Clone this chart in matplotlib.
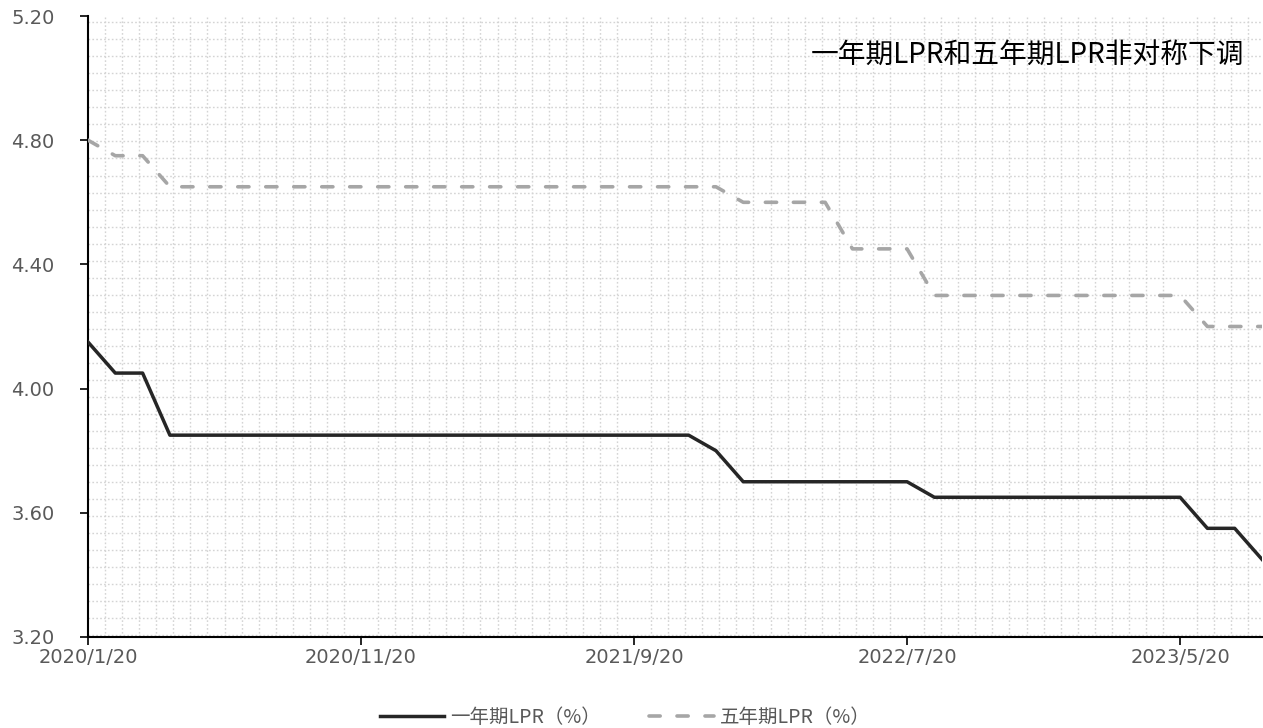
import numpy as np
import matplotlib
matplotlib.use("Agg")
import matplotlib.pyplot as plt

plt.rcParams['font.family'] = ['Noto Sans CJK SC', 'DejaVu Sans']

# monthly LPR quotes, 2020/1 .. 2023/8
months = ["2020/1/20", "2020/2/20", "2020/3/20", "2020/4/20", "2020/5/20", "2020/6/20",
          "2020/7/20", "2020/8/20", "2020/9/20", "2020/10/20", "2020/11/20", "2020/12/20",
          "2021/1/20", "2021/2/20", "2021/3/20", "2021/4/20", "2021/5/20", "2021/6/20",
          "2021/7/20", "2021/8/20", "2021/9/20", "2021/10/20", "2021/11/20", "2021/12/20",
          "2022/1/20", "2022/2/20", "2022/3/20", "2022/4/20", "2022/5/20", "2022/6/20",
          "2022/7/20", "2022/8/20", "2022/9/20", "2022/10/20", "2022/11/20", "2022/12/20",
          "2023/1/20", "2023/2/20", "2023/3/20", "2023/4/20", "2023/5/20", "2023/6/20",
          "2023/7/20", "2023/8/20"]
lpr_1y = [4.15, 4.05, 4.05] + [3.85] * 20 + [3.80] + [3.70] * 7 + [3.65] * 10 + [3.55, 3.55, 3.45]
lpr_5y = [4.80, 4.75, 4.75] + [4.65] * 21 + [4.60] * 4 + [4.45] * 3 + [4.30] * 10 + [4.20] * 3

x = np.arange(len(months))

fig = plt.figure(figsize=(12.63, 7.28), dpi=100)
ax = fig.add_axes([88 / 1263, 1 - 637 / 728, (1262 - 88) / 1263, (637 - 16) / 728])

ax.plot(x, lpr_1y, color='#262626', lw=2.5, label='一年期LPR（%）', zorder=3)
ax.plot(x, lpr_5y, color='#A6A6A6', lw=2.6, ls=(0, (3.1, 4.65)), dash_capstyle='round',
        label='五年期LPR（%）', zorder=3)

ax.set_xlim(0, len(months) - 1)
ax.set_ylim(3.2, 5.2)
ax.set_yticks(np.arange(3.2, 5.21, 0.4))
ax.set_yticklabels(["%.2f" % v for v in np.arange(3.2, 5.21, 0.4)], family='DejaVu Sans')
ax.set_xticks(x[::10])
ax.set_xticklabels(months[::10], family='DejaVu Sans')

# dotted background grid
ax.set_xticks(np.arange(0.625, len(months) - 1, 0.625), minor=True)
ax.set_yticks(np.arange(5.2 - 0.0205, 3.2, -0.0548), minor=True)
ax.grid(which='minor', color='#D4D4D4', ls=(0, (1.2, 1.6)), lw=1.0)
ax.tick_params(which='minor', length=0)
ax.tick_params(axis='y', which='major', length=6, width=1.2, labelsize=14,
               labelcolor='#595959', color='black', pad=18)
ax.tick_params(axis='x', which='major', length=6, width=1.2, labelsize=14,
               labelcolor='#595959', color='black', pad=2)

for s in ['top', 'right']:
    ax.spines[s].set_visible(False)
for s in ['left', 'bottom']:
    ax.spines[s].set_linewidth(1.5)

ax.text(0.985, 0.937, '一年期LPR和五年期LPR非对称下调', transform=ax.transAxes,
        ha='right', va='center', fontsize=20, color='black')

fig.legend(loc='lower center', bbox_to_anchor=(0.495, -0.024), ncol=2, frameon=False,
           fontsize=14, labelcolor='#595959', handlelength=3.3, columnspacing=2.5,
           handletextpad=0.3)

fig.savefig('out.png', dpi=100)
